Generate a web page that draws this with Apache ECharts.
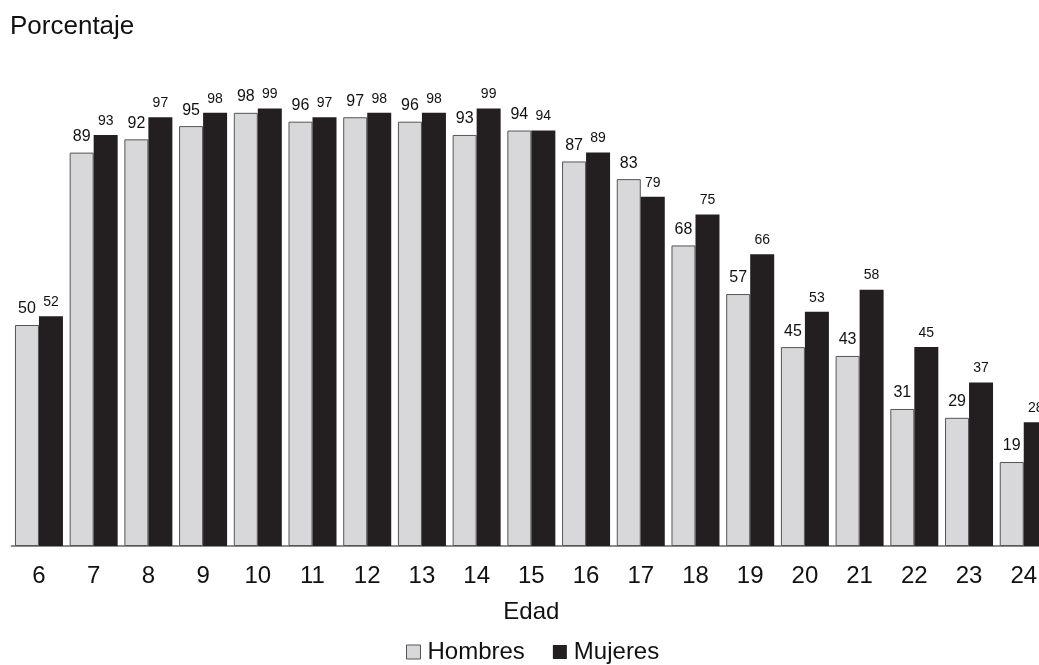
<!DOCTYPE html>
<html>
<head>
<meta charset="utf-8">
<script src="https://cdn.jsdelivr.net/npm/echarts@6/dist/echarts.min.js"></script>
<style>
html,body{margin:0;padding:0;background:#fff;}
#chart{width:1039px;height:665px;}
</style>
</head>
<body>
<div id="chart"></div>
<script>
const categories = ['6','7','8','9','10','11','12','13','14','15','16','17','18','19','20','21','22','23','24'];
const hombres = [50,89,92,95,98,96,97,96,93,94,87,83,68,57,45,43,31,29,19];
const mujeres = [52,93,97,98,99,97,98,98,99,94,89,79,75,66,53,58,45,37,28];

const FONT = '"Liberation Sans", Arial, sans-serif';
const chart = echarts.init(document.getElementById('chart'), null, {renderer:'canvas'});
chart.setOption({
  animation: false,
  backgroundColor: '#ffffff',
  textStyle: {fontFamily: FONT},
  title: {
    text: 'Porcentaje',
    left: 10, top: 14, padding: 0,
    textStyle: {fontFamily: FONT, fontSize: 26, fontWeight: 'normal', color: '#111'}
  },
  legend: {
    left: 406, top: 640, padding: 0,
    itemWidth: 14, itemHeight: 14, itemGap: 28,
    icon: 'rect',
    textStyle: {fontFamily: FONT, fontSize: 24, color: '#111', padding: [0,0,0,2]},
    data: [
      {name: 'Hombres', itemStyle: {color: '#d8d8da', borderColor: '#555', borderWidth: 1}},
      {name: 'Mujeres', itemStyle: {color: '#231f20'}}
    ]
  },
  grid: {left: 11.6, top: 104, width: 1039.5, height: 442, containLabel: false, outerBoundsMode: 'none'},
  xAxis: {
    type: 'category',
    data: categories,
    axisLine: {lineStyle: {color: '#8c8c8c', width: 2}},
    axisTick: {show: false},
    axisLabel: {fontFamily: FONT, fontSize: 24, color: '#111', margin: 18, interval: 0},
    name: 'Edad',
    nameLocation: 'middle',
    nameGap: 54,
    nameTextStyle: {fontFamily: FONT, fontSize: 24, color: '#111'}
  },
  yAxis: {
    type: 'value', min: 0, max: 100,
    show: false,
    splitLine: {show: false}
  },
  series: [
    {
      name: 'Hombres', type: 'bar', data: hombres,
      barWidth: 24, barGap: '0%',
      itemStyle: {color: '#d8d8da', borderColor: '#555', borderWidth: 1},
      label: {show: true, position: 'top', distance: 8, fontFamily: FONT, fontSize: 16, color: '#111'}
    },
    {
      name: 'Mujeres', type: 'bar', data: mujeres,
      barWidth: 24, barGap: '0%',
      itemStyle: {color: '#231f20'},
      label: {show: true, position: 'top', distance: 7, fontFamily: FONT, fontSize: 14, color: '#111'}
    }
  ]
});
</script>
</body>
</html>
